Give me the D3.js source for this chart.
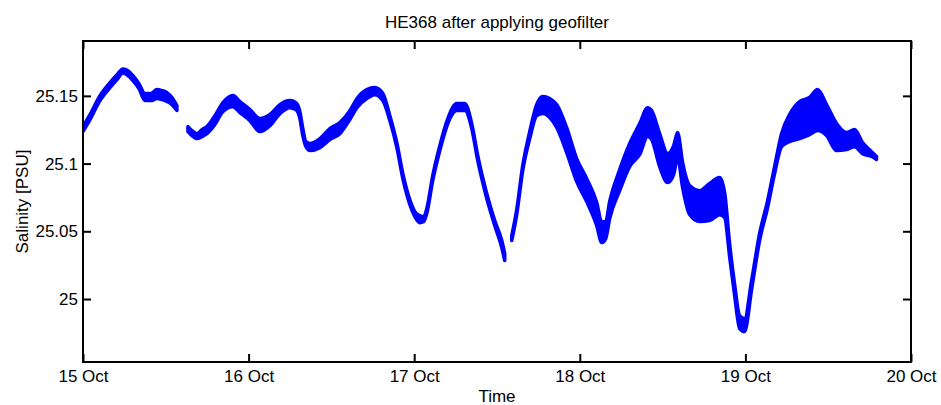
<!DOCTYPE html>
<html>
<head>
<meta charset="utf-8">
<script src="https://cdn.jsdelivr.net/npm/d3@7"></script>
<style>
  body { margin: 0; background: #fff; }
  text { font-family: "Liberation Sans", Arial, sans-serif; fill: #000; }
</style>
</head>
<body>
<div id="chart"></div>
<script>
// hours after 15 Oct 00:00 (null = no data)
const hours = [
  0, 1.01, 2.46, 3.91, 4.92, 5.79, 6.52, 7.24, 8.11, 8.98, 9.85, 10.72, 11.44, 12.17, 12.89, 13.61,
  14.4,
  15.21, 15.79, 16.51, 17.24, 17.96, 19.12, 20.28, 21.73, 22.74, 24.19, 25.64, 27.09, 28.53, 29.98,
  30.85, 31.43, 31.86, 32.30, 32.88, 34.33, 35.78, 37.22, 38.67, 39.69, 41.13, 42.29, 43.45, 44.47,
  45.48, 46.35, 47.36, 48.09, 48.81, 49.39, 49.82, 50.69, 51.71, 52.87, 54.17, 55.33, 56.34, 57.21,
  58.52, 59.67, 60.69, 61.12,
  61.6,
  62.14, 62.86, 63.73, 64.74, 65.76, 66.63, 67.64, 68.65, 70.10, 71.55, 73.00, 74.45, 75.17, 75.75,
  76.33, 77.78, 79.23, 80.68, 81.83, 82.41, 83.57, 84.73, 85.60, 86.18, 86.90, 87.92, 89.37, 90.81,
  92.26, 92.99, 93.71, 94.44, 95.16, 95.88, 96.90, 98.06, 99.22, 100.23, 101.24, 102.40, 103.85,
  105.30, 106.46, 107.76, 109.21, 110.66, 111.82, 112.98, 114.28, 115.00
];
// mean salinity [PSU]
const salinity = [
  25.1255, 25.1343, 25.1483, 25.1579, 25.1638, 25.1683, 25.1668, 25.1631, 25.1572, 25.1491, 25.1491,
  25.1513, 25.1506, 25.1491, 25.1461, 25.1410,
  null,
  25.1255, 25.1225, 25.1203, 25.1225, 25.1247, 25.1321, 25.1417, 25.1461, 25.1417, 25.1358, 25.1284,
  25.1321, 25.1402, 25.1439, 25.1424, 25.1358, 25.1232, 25.1144, 25.1122, 25.1151, 25.1218, 25.1262,
  25.1358, 25.1446, 25.1513, 25.1535, 25.1491, 25.1336, 25.1137, 25.0908, 25.0716, 25.0627, 25.0590,
  25.0590, 25.0649, 25.0893, 25.1114, 25.1314, 25.1417, 25.1417, 25.1277, 25.1041, 25.0760, 25.0561,
  25.0406, 25.0310,
  null,
  25.0450, 25.0642, 25.0967, 25.1210, 25.1395, 25.1432, 25.1410, 25.1351, 25.1173, 25.0952, 25.0804,
  25.0627, 25.0494, 25.0509, 25.0657, 25.0878, 25.1063, 25.1181, 25.1306, 25.1284, 25.1100, 25.0967,
  25.1026, 25.1137, 25.0915, 25.0731, 25.0686, 25.0716, 25.0760, 25.0694, 25.0362, 25.0066, 24.9830,
  24.9808, 25.0103, 25.0458, 25.0701, 25.0952, 25.1173, 25.1262, 25.1321, 25.1351, 25.1395, 25.1321,
  25.1196, 25.1166, 25.1188, 25.1114, 25.1070, 25.1041
];
// half range of the scatter around the mean [PSU]
const spread = [
  0.0018, 0.0018, 0.0018, 0.0018, 0.0018, 0.0015, 0.0018, 0.0018, 0.0018, 0.0026, 0.0026, 0.0033,
  0.0033, 0.0033, 0.0026, 0.0018,
  null,
  0.0018, 0.0018, 0.0018, 0.0026, 0.0026, 0.0033, 0.0033, 0.0041, 0.0041, 0.0041, 0.0048, 0.0041,
  0.0033, 0.0026, 0.0026, 0.0026, 0.0026, 0.0018, 0.0026, 0.0033, 0.0041, 0.0041, 0.0033, 0.0033,
  0.0033, 0.0026, 0.0026, 0.0018, 0.0018, 0.0018, 0.0018, 0.0018, 0.0026, 0.0018, 0.0018, 0.0018,
  0.0018, 0.0018, 0.0026, 0.0026, 0.0018, 0.0018, 0.0018, 0.0018, 0.0026, 0.0026,
  null,
  0.0018, 0.0018, 0.0018, 0.0026, 0.0041, 0.0063, 0.0070, 0.0085, 0.0092, 0.0085, 0.0085, 0.0085,
  0.0077, 0.0063, 0.0063, 0.0077, 0.0085, 0.0114, 0.0107, 0.0107, 0.0122, 0.0107, 0.0107, 0.0092,
  0.0092, 0.0107, 0.0114, 0.0137, 0.0137, 0.0092, 0.0048, 0.0041, 0.0048, 0.0048, 0.0033, 0.0026,
  0.0026, 0.0026, 0.0048, 0.0100, 0.0137, 0.0137, 0.0151, 0.0114, 0.0100, 0.0063, 0.0063, 0.0041,
  0.0018, 0.0011
];
const xTicks = ["2011-10-15", "2011-10-16", "2011-10-17", "2011-10-18", "2011-10-19", "2011-10-20"];
const yTicks = [25, 25.05, 25.1, 25.15];
const yTickLabels = ["25", "25.05", "25.1", "25.15"];

const W = 941, H = 405;
const margin = {top: 41, right: 30, bottom: 43, left: 83};
const width = W - margin.left - margin.right,
      height = H - margin.top - margin.bottom;

const svg = d3.select("#chart").append("svg")
    .attr("width", W).attr("height", H);
const g = svg.append("g")
    .attr("transform", `translate(${margin.left},${margin.top})`);

const t0 = new Date("2011-10-15T00:00:00Z");
const x = d3.scaleUtc()
    .domain([t0, new Date("2011-10-20T00:00:00Z")])
    .range([0, width]);
const y = d3.scaleLinear()
    .domain([24.9535, 25.1905])
    .range([height, 0]);

const data = hours.map((h, i) => ({
  t: new Date(t0.getTime() + h * 3600e3),
  s: salinity[i],
  d: spread[i]
}));

g.append("clipPath").attr("id", "clip")
  .append("rect").attr("width", width).attr("height", height);

const area = d3.area()
    .defined(d => d.s != null)
    .curve(d3.curveMonotoneX)
    .x(d => x(d.t))
    .y0(d => y(d.s - d.d))
    .y1(d => y(d.s + d.d));

g.append("path")
    .datum(data)
    .attr("clip-path", "url(#clip)")
    .attr("d", area)
    .attr("fill", "#0000ff")
    .attr("stroke", "#0000ff")
    .attr("stroke-width", 3.5)
    .attr("stroke-linejoin", "round");

// axes, ticks pointing inwards like matlab
const xt = xTicks.map(s => new Date(s + "T00:00:00Z"));
const fmt = d3.utcFormat("%-d %b");

g.append("g")
    .attr("transform", `translate(0,${height})`)
    .call(d3.axisBottom(x).tickValues(xt).tickFormat(fmt).tickSizeInner(-8).tickSizeOuter(0).tickPadding(8));
g.append("g")
    .call(d3.axisTop(x).tickValues(xt).tickFormat("").tickSizeInner(-8).tickSizeOuter(0));
g.append("g")
    .call(d3.axisLeft(y).tickValues(yTicks).tickFormat((d, i) => yTickLabels[i]).tickSizeInner(-8).tickSizeOuter(0).tickPadding(5));
g.append("g")
    .attr("transform", `translate(${width},0)`)
    .call(d3.axisRight(y).tickValues(yTicks).tickFormat("").tickSizeInner(-8).tickSizeOuter(0));

g.selectAll(".domain").remove();
g.selectAll(".tick line").attr("stroke", "#000").attr("stroke-width", 2);
g.selectAll(".tick text")
    .style("font-size", "17px")
    .style("font-family", "'Liberation Sans', Arial, sans-serif")
    .attr("fill", "#000");

g.append("rect")
    .attr("width", width).attr("height", height)
    .attr("fill", "none").attr("stroke", "#000").attr("stroke-width", 2);

svg.append("text")
    .attr("x", margin.left + width / 2).attr("y", 28)
    .attr("text-anchor", "middle")
    .style("font-size", "17px")
    .text("HE368 after applying geofilter");

svg.append("text")
    .attr("x", margin.left + width / 2).attr("y", 402)
    .attr("text-anchor", "middle")
    .style("font-size", "17px")
    .text("Time");

svg.append("text")
    .attr("transform", `translate(28,${margin.top + height / 2}) rotate(-90)`)
    .attr("text-anchor", "middle")
    .style("font-size", "17px")
    .text("Salinity [PSU]");
</script>
</body>
</html>
